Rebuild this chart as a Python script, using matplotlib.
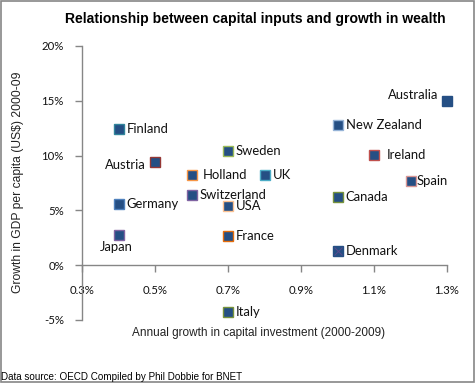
import matplotlib.pyplot as plt
from matplotlib.patches import Rectangle

# Data (percent)
countries = ["Finland", "Austria", "Sweden", "Holland", "Switzerland", "Germany",
             "USA", "Japan", "France", "Australia", "New Zealand", "Ireland",
             "UK", "Spain", "Canada", "Denmark", "Italy"]
capital_growth = [0.4, 0.5, 0.7, 0.6, 0.6, 0.4, 0.7, 0.4, 0.7, 1.3, 1.0, 1.1,
                  0.8, 1.2, 1.0, 1.0, 0.7]
gdp_growth = [12.4, 9.4, 10.4, 8.2, 6.4, 5.6, 5.4, 2.8, 2.7, 15.0, 12.8, 10.1,
              8.2, 7.7, 6.2, 1.3, -4.3]
edge_colors = ["#31859C", "#953735", "#9BBB59", "#F79646", "#8064A2", "#4F81BD",
               "#FAC090", "#8064A2", "#E46C0A", "#254F84", "#95B3D7", "#C0504D",
               "#4BACC6", "#D99694", "#77933C", "#254F84", "#77933C"]
# label offsets in pixels (dx, dy) and alignment
label_pos = {
    "Austria": (-9, -3, "right", "center"),
    "Japan": (-2, -12, "center", "center"),
    "Australia": (-9, 6, "right", "center"),
    "Ireland": (13, 0, "left", "center"),
    "Holland": (11, 0, "left", "center"),
    "Spain": (6, 0, "left", "center"),
}

fill = "#254F84"
fig = plt.figure(figsize=(4.75, 3.83), dpi=100)
ax = fig.add_axes([82 / 475, 1 - 320 / 383, 365 / 475, 274 / 383])

for name, x, y, ec in zip(countries, capital_growth, gdp_growth, edge_colors):
    ax.plot(x, y, marker="s", markersize=7.4, markerfacecolor=fill,
            markeredgecolor=ec, markeredgewidth=1.0, linestyle="none",
            clip_on=False, zorder=3)
    if name == "Denmark":
        ax.plot(x, y, marker="x", markersize=6, color="#5A4A8C",
                markeredgewidth=0.7, clip_on=False, zorder=4)
    dx, dy, ha, va = label_pos.get(name, (8, 0, "left", "center"))
    ax.annotate(name, (x, y), xytext=(dx * 0.72, dy * 0.72),
                textcoords="offset points", ha=ha, va=va,
                fontsize=9.4, family="Lato", color="#111111")

ax.set_xlim(0.3, 1.3)
ax.set_ylim(-5, 20)
ax.set_xticks([0.3, 0.5, 0.7, 0.9, 1.1, 1.3])
ax.set_xticklabels(["0.3%", "0.5%", "0.7%", "0.9%", "1.1%", "1.3%"])
ax.set_yticks([-5, 0, 5, 10, 15, 20])
ax.set_yticklabels(["-5%", "0%", "5%", "10%", "15%", "20%"])

for s in ["top", "right"]:
    ax.spines[s].set_visible(False)
ax.spines["bottom"].set_position(("data", 0))
for s in ["left", "bottom"]:
    ax.spines[s].set_color("#868686")
    ax.spines[s].set_linewidth(1.0)
ax.tick_params(axis="both", direction="out", length=5, width=1.0,
               color="#868686", labelsize=8.2, labelcolor="#111111")
for lbl in ax.get_xticklabels() + ax.get_yticklabels():
    lbl.set_family("Lato")
ax.tick_params(axis="x", pad=9)
ax.tick_params(axis="y", pad=8)
ax.patch.set_visible(False)

fig.text(255 / 475, 1 - 19 / 383, "Relationship between capital inputs and growth in wealth",
         ha="center", va="center", fontsize=10.1, fontweight="bold", family="Liberation Sans")
fig.text(259 / 475, 1 - 333 / 383, "Annual growth in capital investment (2000-2009)",
         ha="center", va="center", fontsize=8.5, family="Liberation Sans", color="#222222")
fig.text(18 / 475, 1 - 182 / 383, "Growth in GDP per capita (US$) 2000-09",
         ha="center", va="center", rotation=90, fontsize=8.7, family="Liberation Sans",
         color="#222222")
fig.text(1 / 475, 1 - 377 / 383, "Data source: OECD Compiled by Phil Dobbie for BNET",
         ha="left", va="center", fontsize=7.1, family="Liberation Sans")

# border around the whole chart
fig.patches.append(Rectangle((0.002, 0.002), 0.996, 0.995, transform=fig.transFigure,
                             fill=False, edgecolor="#868686", linewidth=1.2))

fig.savefig("out.png", dpi=100)
